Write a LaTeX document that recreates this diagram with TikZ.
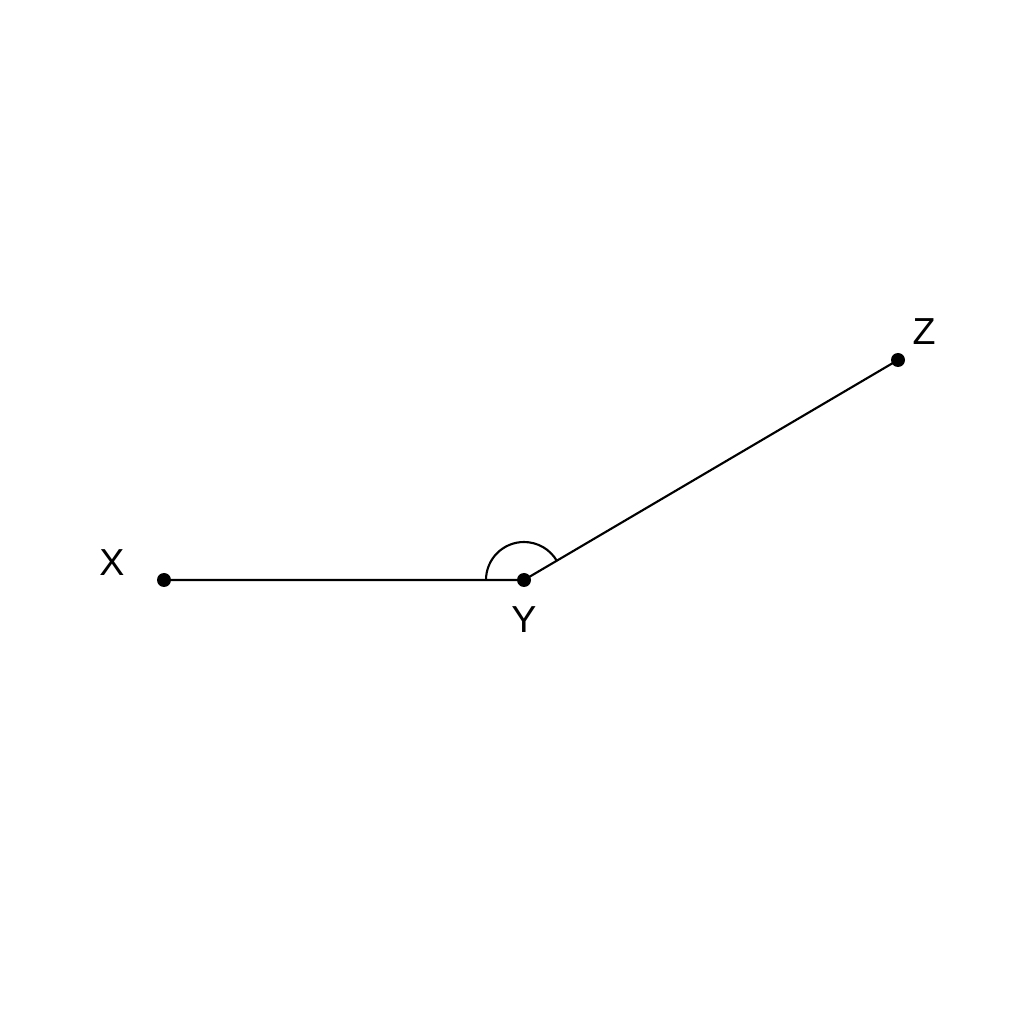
\documentclass[tikz,border=0pt]{standalone}
\usepackage{fontspec}
\setmainfont{Liberation Sans}
\begin{document}
\begin{tikzpicture}[
    dot/.style={circle, fill=black, inner sep=0pt, minimum size=0.14cm},
    lbl/.style={font=\fontsize{10.7}{12}\selectfont, inner sep=0pt}]
    \useasboundingbox (0,0) rectangle (10.24,10.24);

    \node[dot] (X) at (1.64,4.44) {};
    \node[dot] (Y) at (5.24,4.44) {};
    \node[dot] (Z) at (8.98,6.64) {};

    \draw[line width=0.6pt] (X.center) -- (Y.center) -- (Z.center); %legs
    \draw[line width=0.6pt] ([shift={(180:0.38)}]Y.center) arc[start angle=180, end angle=30, radius=0.38]; %angle

    \node[lbl] (xlab) at (1.12,4.61) {X};
    \node[lbl] (ylab) at (5.24,4.04) {Y};
    \node[lbl] (zlab) at (9.24,6.92) {Z};
\end{tikzpicture}
\end{document}
